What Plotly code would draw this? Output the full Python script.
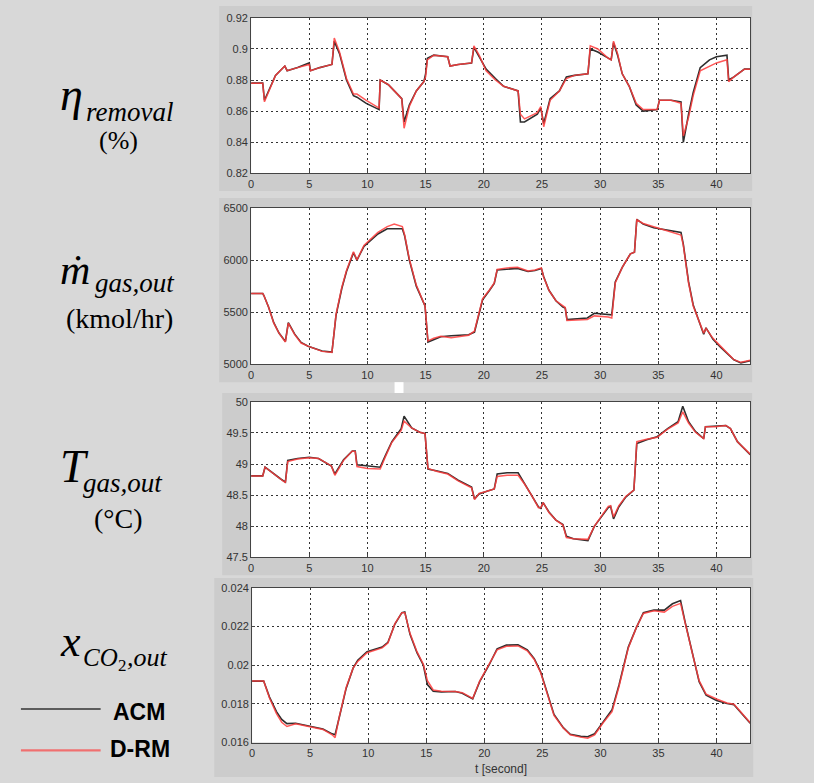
import plotly.graph_objects as go

W, H = 814, 783

# ---------------- data ----------------
t_eta = [0, 1.0, 1.15, 2.1, 2.9, 3.1, 4.0, 5.0, 5.1, 5.9, 6.95, 7.15, 7.6, 8.2, 8.8, 9.1, 9.9, 11.0, 11.1, 11.8,
         12.7, 12.95, 13.15, 13.6, 14.2, 14.85, 15.0, 15.15, 15.7, 16.9, 17.1, 17.8, 18.95, 19.15, 19.6, 20.2, 21.0,
         21.7, 22.95, 23.15, 23.5, 24.6, 24.9, 25.15, 25.7, 26.5, 27.1, 27.8, 28.95, 29.15, 29.8, 30.7, 30.95, 31.15,
         31.5, 31.9, 32.5, 32.8, 33.1, 33.7, 34.9, 35.1, 36.1, 36.95, 37.15, 37.6, 38.0, 38.6, 39.4, 40.0, 40.9,
         41.05, 41.5, 42.4, 42.9]
eta_acm = [0.878, 0.878, 0.867, 0.883, 0.889, 0.886, 0.888, 0.891, 0.886, 0.888, 0.890, 0.905, 0.897, 0.880, 0.870,
           0.869, 0.865, 0.861, 0.880, 0.877, 0.870, 0.868, 0.853, 0.864, 0.873, 0.879, 0.884, 0.894, 0.896, 0.895,
           0.889, 0.890, 0.891, 0.901, 0.895, 0.887, 0.881, 0.876, 0.873, 0.853, 0.853, 0.858, 0.862, 0.852, 0.868,
           0.873, 0.882, 0.883, 0.884, 0.900, 0.898, 0.894, 0.893, 0.904, 0.896, 0.884, 0.876, 0.870, 0.864, 0.860,
           0.861, 0.867, 0.867, 0.866, 0.840, 0.858, 0.872, 0.888, 0.893, 0.895, 0.896, 0.880, 0.882, 0.887, 0.887]
eta_drm = [0.878, 0.878, 0.866, 0.883, 0.889, 0.886, 0.888, 0.890, 0.886, 0.888, 0.890, 0.907, 0.898, 0.881, 0.871,
           0.871, 0.867, 0.862, 0.880, 0.877, 0.870, 0.868, 0.849, 0.863, 0.873, 0.879, 0.882, 0.893, 0.896, 0.895,
           0.889, 0.890, 0.891, 0.902, 0.896, 0.886, 0.880, 0.876, 0.873, 0.858, 0.855, 0.859, 0.863, 0.850, 0.867,
           0.873, 0.881, 0.883, 0.884, 0.902, 0.900, 0.894, 0.893, 0.905, 0.897, 0.884, 0.876, 0.870, 0.865, 0.861,
           0.861, 0.867, 0.867, 0.865, 0.844, 0.856, 0.870, 0.886, 0.889, 0.891, 0.893, 0.879, 0.882, 0.887, 0.887]

t_m = [0, 1.0, 1.1, 1.5, 1.95, 2.4, 2.95, 3.2, 3.75, 4.3, 4.9, 5.5, 6.1, 6.95, 7.3, 7.8, 8.2, 8.8, 9.1, 9.7, 10.3,
       10.9, 11.7, 12.3, 13.0, 13.2, 13.6, 14.2, 14.95, 15.2, 15.7, 16.3, 17.2, 18.7, 19.2, 19.5, 19.9, 20.5, 20.9,
       21.15, 22.0, 22.9, 23.8, 24.4, 24.95, 25.15, 25.6, 26.2, 26.8, 27.0, 27.15, 28.0, 28.9, 29.5, 30.7, 31.0,
       31.3, 31.9, 32.6, 32.95, 33.15, 33.7, 34.6, 35.5, 36.4, 36.95, 37.15, 37.6, 38.0, 38.5, 38.9, 39.1, 39.7,
       40.3, 40.9, 41.5, 42.1, 42.9]
m_acm = [5680, 5680, 5660, 5550, 5400, 5300, 5220, 5400, 5290, 5210, 5175, 5150, 5128, 5118, 5470, 5730, 5890, 6070,
         6000, 6130, 6190, 6250, 6300, 6300, 6300, 6230, 6000, 5750, 5560, 5215, 5240, 5265, 5275, 5285, 5310, 5440,
         5620, 5710, 5775, 5905, 5915, 5920, 5890, 5900, 5920, 5840, 5710, 5610, 5550, 5540, 5430, 5435, 5445, 5490,
         5480, 5475, 5790, 5930, 6060, 6075, 6390, 6345, 6310, 6295, 6280, 6265, 6150, 5790, 5570, 5410, 5290, 5350,
         5240, 5170, 5105, 5045, 5015, 5035]
m_drm = [5680, 5680, 5660, 5550, 5395, 5300, 5215, 5395, 5285, 5205, 5175, 5150, 5125, 5115, 5480, 5740, 5900, 6080,
         6000, 6140, 6200, 6265, 6320, 6345, 6320, 6240, 6010, 5760, 5560, 5225, 5250, 5270, 5255, 5280, 5320, 5460,
         5630, 5715, 5780, 5910, 5925, 5930, 5895, 5905, 5925, 5835, 5710, 5610, 5555, 5545, 5420, 5425, 5430, 5465,
         5455, 5445, 5780, 5930, 6060, 6075, 6385, 6350, 6320, 6295, 6260, 6240, 6140, 5780, 5560, 5405, 5300, 5345,
         5250, 5180, 5110, 5045, 5020, 5040]

t_T = [0, 1.0, 1.2, 1.95, 2.55, 2.95, 3.15, 4.0, 5.0, 5.8, 6.9, 7.2, 7.95, 8.7, 8.95, 9.1, 10.0, 11.1, 11.5, 12.1,
       12.9, 13.15, 13.8, 14.5, 14.95, 15.2, 16.0, 16.9, 17.8, 18.7, 18.95, 19.2, 19.6, 20.2, 20.9, 21.15, 22.0,
       22.95, 23.5, 24.1, 24.7, 24.9, 25.1, 25.6, 26.2, 26.8, 27.1, 27.7, 28.95, 29.5, 30.1, 30.7, 30.9, 31.15, 31.6,
       32.2, 32.9, 33.15, 34.0, 34.9, 35.8, 36.7, 37.1, 37.6, 38.2, 38.9, 39.05, 39.9, 40.8, 41.2, 41.8, 42.9]
T_acm = [48.81, 48.81, 48.95, 48.84, 48.76, 48.71, 49.06, 49.09, 49.11, 49.09, 48.97, 48.84, 49.07, 49.21, 49.21,
         48.99, 48.97, 48.95, 49.12, 49.36, 49.57, 49.77, 49.58, 49.51, 49.49, 48.92, 48.89, 48.85, 48.74, 48.66,
         48.63, 48.44, 48.52, 48.56, 48.60, 48.84, 48.86, 48.86, 48.68, 48.50, 48.31, 48.29, 48.38, 48.23, 48.10,
         48.03, 47.84, 47.80, 47.77, 48.00, 48.16, 48.30, 48.32, 48.12, 48.31, 48.47, 48.58, 49.33, 49.39, 49.44,
         49.57, 49.68, 49.93, 49.68, 49.52, 49.41, 49.60, 49.61, 49.62, 49.57, 49.36, 49.15]
T_drm = [48.81, 48.81, 48.95, 48.84, 48.76, 48.70, 49.04, 49.08, 49.10, 49.09, 48.97, 48.82, 49.06, 49.21, 49.20,
         48.96, 48.93, 48.92, 49.10, 49.35, 49.54, 49.69, 49.58, 49.51, 49.49, 48.93, 48.88, 48.84, 48.73, 48.65,
         48.62, 48.43, 48.53, 48.56, 48.60, 48.80, 48.82, 48.82, 48.68, 48.50, 48.30, 48.30, 48.38, 48.22, 48.10,
         48.02, 47.82, 47.80, 47.79, 48.00, 48.17, 48.32, 48.33, 48.15, 48.33, 48.48, 48.58, 49.36, 49.40, 49.43,
         49.56, 49.66, 49.84, 49.66, 49.51, 49.41, 49.60, 49.60, 49.62, 49.57, 49.36, 49.16]

t_x = [0, 1.0, 1.5, 2.1, 2.55, 3.0, 3.75, 4.65, 5.5, 6.1, 6.9, 7.15, 7.5, 8.1, 8.7, 9.1, 9.9, 10.6, 11.2, 11.7, 12.3,
       12.9, 13.15, 13.6, 14.2, 14.75, 15.1, 15.6, 16.3, 17.5, 18.1, 19.0, 19.6, 20.4, 21.1, 21.9, 22.9, 23.7, 24.3,
       24.85, 25.3, 26.0, 26.8, 27.4, 28.3, 28.9, 29.5, 30.2, 31.0, 31.6, 32.4, 33.1, 33.7, 34.6, 35.5, 36.2, 36.9,
       37.3, 37.9, 38.5, 39.1, 40.0, 40.9, 41.5, 42.9]
x_acm = [0.01918, 0.01918, 0.01835, 0.01760, 0.01720, 0.01698, 0.01700, 0.01690, 0.01680, 0.01670, 0.01645, 0.01640,
         0.01728, 0.01880, 0.01985, 0.02026, 0.02070, 0.02085, 0.02094, 0.02119, 0.02213, 0.02272, 0.02276, 0.02160,
         0.02065, 0.02000, 0.01900, 0.01865, 0.01862, 0.01864, 0.01855, 0.01826, 0.01915, 0.02000, 0.02085, 0.02104,
         0.02106, 0.02080, 0.02034, 0.01966, 0.01881, 0.01745, 0.01677, 0.01643, 0.01632, 0.01630, 0.01645, 0.01702,
         0.01770, 0.01898, 0.02094, 0.02196, 0.02272, 0.02285, 0.02285, 0.02318, 0.02335, 0.02221, 0.02068, 0.01915,
         0.01845, 0.01818, 0.01802, 0.01796, 0.01700]
x_drm = [0.01918, 0.01918, 0.01830, 0.01750, 0.01705, 0.01683, 0.01697, 0.01685, 0.01677, 0.01668, 0.01640, 0.01625,
         0.01730, 0.01885, 0.01985, 0.02020, 0.02065, 0.02080, 0.02090, 0.02115, 0.02215, 0.02272, 0.02272, 0.02165,
         0.02070, 0.02005, 0.01920, 0.01872, 0.01866, 0.01864, 0.01858, 0.01828, 0.01918, 0.02005, 0.02080, 0.02098,
         0.02100, 0.02075, 0.02030, 0.01962, 0.01875, 0.01740, 0.01675, 0.01640, 0.01628, 0.01622, 0.01640, 0.01700,
         0.01760, 0.01890, 0.02090, 0.02196, 0.02268, 0.02282, 0.02275, 0.02305, 0.02320, 0.02215, 0.02065, 0.01920,
         0.01850, 0.01825, 0.01805, 0.01798, 0.01702]

x_tickvals = [0, 5, 10, 15, 20, 25, 30, 35, 40]
x_range = [0, 42.9]
y1_ticks = [0.82, 0.84, 0.86, 0.88, 0.90, 0.92]
y1_text = ["0.82", "0.84", "0.86", "0.88", "0.9", "0.92"]
y2_ticks = [5000, 5500, 6000, 6500]
y2_text = ["5000", "5500", "6000", "6500"]
y3_ticks = [47.5, 48, 48.5, 49, 49.5, 50]
y3_text = ["47.5", "48", "48.5", "49", "49.5", "50"]
y4_ticks = [0.016, 0.018, 0.020, 0.022, 0.024]
y4_text = ["0.016", "0.018", "0.02", "0.022", "0.024"]
series_names = ["ACM", "D-RM"]

# ---------------- layout helpers ----------------
def px(x):
    return x / W

def py(y):
    return 1 - y / H

panels = [  # (left, top, right, bottom) in pixels
    (249, 12, 750, 170),
    (249, 205, 750, 364),
    (249, 402, 750, 560),
    (250, 591, 750, 748),
]
panel_bg = [  # grey figure windows
    (217, 0, 752, 188),
    (217, 195, 752, 382),
    (220, 393, 752, 578),
    (212, 581, 753, 783),
]

ACM_COLOR = "#2e2e2e"
DRM_COLOR = "rgba(255,60,60,0.85)"
TICK_FONT = dict(family="Liberation Sans, Arial, sans-serif", size=11, color="#333333")

fig = go.Figure()

datasets = [
    (t_eta, eta_acm, eta_drm, [0.82, 0.92], y1_ticks, y1_text),
    (t_m, m_acm, m_drm, [5000, 6500], y2_ticks, y2_text),
    (t_T, T_acm, T_drm, [47.5, 50], y3_ticks, y3_text),
    (t_x, x_acm, x_drm, [0.016, 0.024], y4_ticks, y4_text),
]

layout = dict(
    width=W, height=H,
    margin=dict(l=0, r=0, t=0, b=0),
    paper_bgcolor="#d8d8d8",
    plot_bgcolor="rgba(0,0,0,0)",
    showlegend=False,
)

for i, (tt, a, d, yr, yt, ytt) in enumerate(datasets):
    n = "" if i == 0 else str(i + 1)
    xa, ya = "x" + n, "y" + n
    fig.add_trace(go.Scatter(x=tt, y=a, mode="lines", name=series_names[0], xaxis=xa, yaxis=ya,
                             line=dict(color=ACM_COLOR, width=1.6)))
    fig.add_trace(go.Scatter(x=tt, y=d, mode="lines", name=series_names[1], xaxis=xa, yaxis=ya,
                             line=dict(color=DRM_COLOR, width=1.5)))
    l, tp, r, b = panels[i]
    axcommon = dict(showline=True, linecolor="#444444", linewidth=1, mirror=True,
                    showgrid=True, gridcolor="#333333", gridwidth=1, griddash="2px,3px",
                    ticks="inside", ticklen=3, tickcolor="#444444", tickfont=TICK_FONT,
                    zeroline=False, fixedrange=True)
    layout["xaxis" + n] = dict(domain=[px(l), px(r)], range=x_range, anchor=ya,
                               tickvals=x_tickvals, **axcommon)
    layout["yaxis" + n] = dict(domain=[py(b), py(tp)], range=yr, anchor=xa,
                               tickvals=yt, ticktext=ytt, **axcommon)

fig.update_layout(**layout)

shapes = []
for (l, tp, r, b) in panel_bg:
    shapes.append(dict(type="rect", xref="paper", yref="paper", x0=px(l), x1=px(r), y0=py(b), y1=py(tp),
                       fillcolor="#cccccc", line=dict(width=0), layer="below"))
for (l, tp, r, b) in panels:
    shapes.append(dict(type="rect", xref="paper", yref="paper", x0=px(l), x1=px(r), y0=py(b), y1=py(tp),
                       fillcolor="#ffffff", line=dict(width=0), layer="below"))
# small white artefact between panels 2 and 3
shapes.append(dict(type="rect", xref="paper", yref="paper", x0=px(393), x1=px(402), y0=py(393), y1=py(382),
                   fillcolor="#ffffff", line=dict(width=0), layer="below"))
# legend lines
shapes.append(dict(type="line", xref="paper", yref="paper", x0=px(18), x1=px(98), y0=py(714), y1=py(714),
                   line=dict(color="#333333", width=1.5)))
shapes.append(dict(type="line", xref="paper", yref="paper", x0=px(18), x1=px(98), y0=py(756), y1=py(756),
                   line=dict(color="#f07070", width=2.2)))
fig.update_layout(shapes=shapes)

SERIF = "Liberation Serif, Times New Roman, serif"
SANS = "Liberation Sans, Arial, sans-serif"

def label(text, x, baseline, size, family=SERIF, anchor="left", ratio=0.3375, bold=False):
    cy = baseline - ratio * size
    if bold:
        text = "<b>" + text + "</b>"
    fig.add_annotation(text=text, x=px(x), y=py(cy), xref="paper", yref="paper",
                       xanchor=anchor, yanchor="middle", showarrow=False,
                       font=dict(family=family, size=size, color="#000000"), borderpad=0)

# eta_removal (%)
label("<i>η</i>", 56, 105, 46)
label("<i>removal</i>", 82, 117, 27)
label("(%)", 116, 145, 26, anchor="center")
# m-dot gas,out (kmol/hr)
label("<i>ṁ</i>", 56, 282, 42)
label("<i>gas,out</i>", 91, 290, 27)
label("(kmol/hr)", 117, 327, 28, anchor="center")
# T gas,out (°C)
label("<i>T</i>", 56, 483, 46)
label("<i>gas,out</i>", 79, 494, 27)
label("(°C)", 116, 530, 28, anchor="center")
# x CO2,out
label("<i>x</i>", 56, 660, 44)
label("<i>CO</i>", 79, 670, 25)
label("2", 114, 675, 17)
label("<i>,out</i>", 123, 670, 26)
# legend text
label("ACM", 109, 725, 23, family=SANS, ratio=0.3465, bold=True)
label("D-RM", 106, 763, 23, family=SANS, ratio=0.3465, bold=True)
# x-axis title
fig.add_annotation(text="t [second]", x=px(500), y=py(775), xref="paper", yref="paper",
                   xanchor="center", yanchor="middle", showarrow=False,
                   font=dict(family=SANS, size=12, color="#333333"))

fig.write_html("out.html")
